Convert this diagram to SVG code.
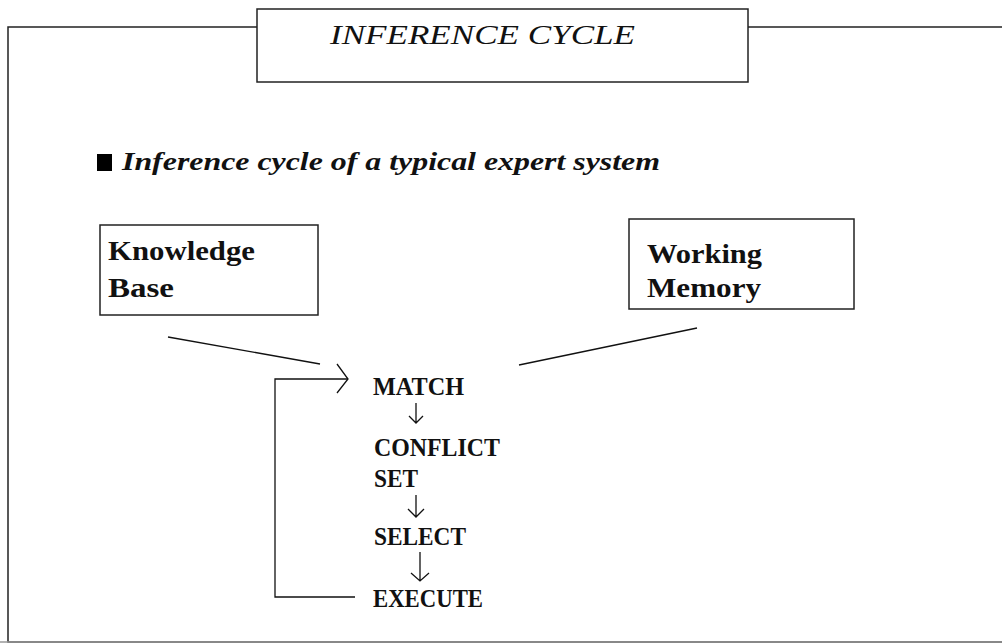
<svg xmlns="http://www.w3.org/2000/svg" width="1002" height="643" viewBox="0 0 1002 643">
  <defs>
    <style>
      .frame { fill: none; stroke: #222; stroke-width: 1.5; }
      .box { fill: #fff; stroke: #222; stroke-width: 1.5; }
      .line { fill: none; stroke: #111; stroke-width: 1.3; }
      .title { font-family: "Liberation Serif", "Times New Roman", serif; font-style: italic; font-size: 28px; fill: #111; }
      .sub { font-family: "Liberation Serif", "Times New Roman", serif; font-style: italic; font-weight: bold; font-size: 25px; fill: #111; }
      .lbl { font-family: "Liberation Serif", "Times New Roman", serif; font-weight: bold; font-size: 27px; fill: #111; }
      .step { font-family: "Liberation Serif", "Times New Roman", serif; font-weight: bold; font-size: 26px; fill: #111; }
    </style>
  </defs>
  <rect width="1002" height="643" fill="#fff"/>

  <!-- outer frame (open to the right) -->
  <path class="frame" d="M1003,27 H8 V642 H1003"/>
  <line x1="0" y1="642" x2="1002" y2="642" stroke="#999" stroke-width="1.5"/>

  <!-- title tab -->
  <g id="title">
    <rect class="box" x="257" y="9" width="491" height="73"/>
    <text class="title" x="330" y="44" textLength="305" lengthAdjust="spacingAndGlyphs">INFERENCE CYCLE</text>
  </g>

  <!-- heading -->
  <g id="heading">
    <rect x="97" y="154" width="15" height="17" fill="#000"/>
    <text class="sub" x="122" y="170" textLength="538" lengthAdjust="spacingAndGlyphs">Inference cycle of a typical expert system</text>
  </g>

  <g id="knowledge-base">
    <rect class="box" x="100" y="225" width="218" height="90"/>
    <text class="lbl" x="108" y="260" textLength="147" lengthAdjust="spacingAndGlyphs">Knowledge</text>
    <text class="lbl" x="108" y="297" textLength="66" lengthAdjust="spacingAndGlyphs">Base</text>
  </g>

  <g id="working-memory">
    <rect class="box" x="629" y="219" width="225" height="90"/>
    <text class="lbl" x="647" y="263" textLength="115" lengthAdjust="spacingAndGlyphs">Working</text>
    <text class="lbl" x="647" y="297" textLength="114" lengthAdjust="spacingAndGlyphs">Memory</text>
  </g>

  <g id="match"><text class="step" x="373" y="395" textLength="91" lengthAdjust="spacingAndGlyphs">MATCH</text></g>
  <g id="conflict-set">
    <text class="step" x="374" y="456" textLength="126" lengthAdjust="spacingAndGlyphs">CONFLICT</text>
    <text class="step" x="374" y="487" textLength="44" lengthAdjust="spacingAndGlyphs">SET</text>
  </g>
  <g id="select"><text class="step" x="374" y="545" textLength="92" lengthAdjust="spacingAndGlyphs">SELECT</text></g>
  <g id="execute"><text class="step" x="373" y="607" textLength="110" lengthAdjust="spacingAndGlyphs">EXECUTE</text></g>

  <g id="connectors">
    <!-- inputs into the match step -->
    <line class="line" x1="168" y1="337" x2="320" y2="364"/>
    <line class="line" x1="519" y1="365" x2="697" y2="328"/>
    <!-- feedback loop from execute back to match -->
    <path class="line" d="M355,597 H275 V379 H348"/>
    <path class="line" d="M337,364 L348,379 L337,393"/>
    <!-- step arrows -->
    <path class="line" d="M416,403 V423 M409,416 L416,423 L423,416"/>
    <path class="line" d="M416,495 V517 M408,509 L416,517 L424,509"/>
    <path class="line" d="M420,552 V581 M411,573 L420,581 L429,573"/>
  </g>
</svg>
